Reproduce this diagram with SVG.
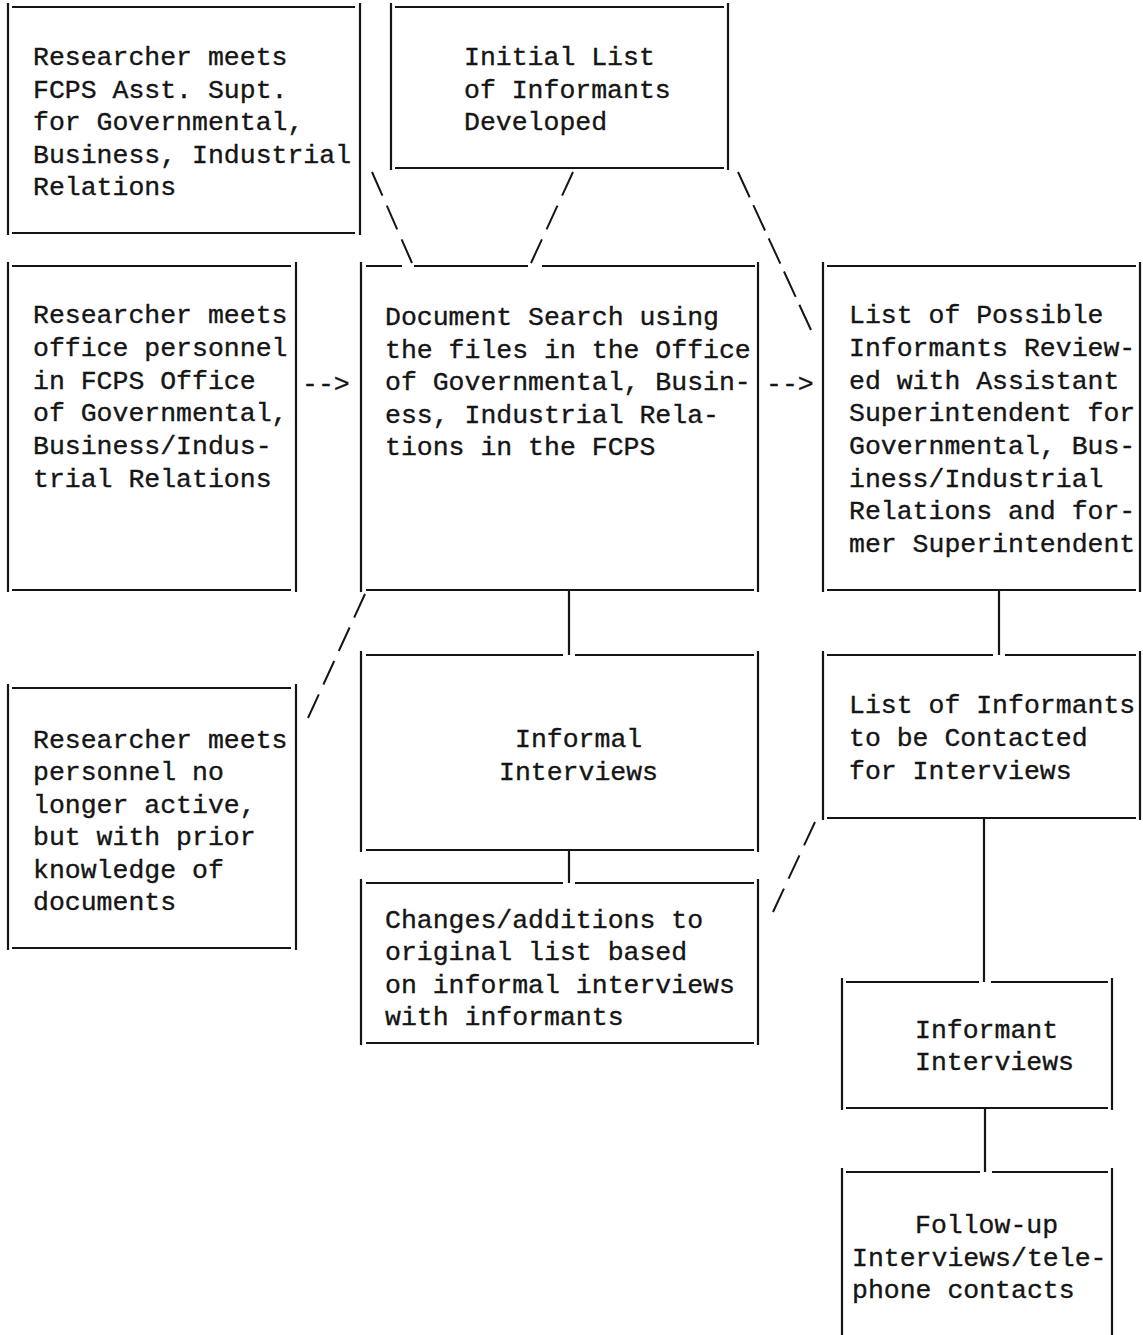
<svg xmlns="http://www.w3.org/2000/svg" width="1143" height="1335" viewBox="0 0 1143 1335">
<style>
.bg{fill:#ffffff}
.b{fill:none;stroke:#151515;stroke-width:2.2;stroke-linecap:butt}
.c{fill:none;stroke:#151515;stroke-width:2.2}
.d{fill:none;stroke:#151515;stroke-width:2}
.d3{stroke-dasharray:26 11}
.d4{stroke-dasharray:19 8}
.d5{stroke-dasharray:16 5}
.t{font-family:"Liberation Mono","DejaVu Sans Mono",monospace;font-size:26.5px;fill:#151515;stroke:#151515;stroke-width:0.35}
</style>
<rect class="bg" x="0" y="0" width="1143" height="1335"/>

<g id="node-asst-supt">
<path class="b" d="M8 3V235M360 3V235M12 7H355M12 233H355"/>
<text class="t"><tspan x="33" y="65">Researcher meets</tspan><tspan x="33" y="97.5">FCPS Asst. Supt.</tspan><tspan x="33" y="130">for Governmental,</tspan><tspan x="33" y="162.5">Business, Industrial</tspan><tspan x="33" y="195">Relations</tspan></text>
</g>

<g id="node-initial-list">
<path class="b" d="M391 3V170M728 3V170M395 7H724M395 168H724"/>
<text class="t"><tspan x="464" y="65">Initial List</tspan><tspan x="464" y="97.5">of Informants</tspan><tspan x="464" y="130">Developed</tspan></text>
</g>

<g id="node-office-personnel">
<path class="b" d="M8 262V592M296 262V592M12 266H291M12 590H291"/>
<text class="t"><tspan x="33" y="323">Researcher meets</tspan><tspan x="33" y="356">office personnel</tspan><tspan x="33" y="388.5">in FCPS Office</tspan><tspan x="33" y="421">of Governmental,</tspan><tspan x="33" y="454">Business/Indus-</tspan><tspan x="33" y="486.5">trial Relations</tspan></text>
</g>

<g id="node-document-search">
<path class="b" d="M361 262V592M758 262V592M366 266H402M414 266H528M542 266H755M366 590H754"/>
<text class="t"><tspan x="385" y="325">Document Search using</tspan><tspan x="385" y="357.5">the files in the Office</tspan><tspan x="385" y="390">of Governmental, Busin-</tspan><tspan x="385" y="422.5">ess, Industrial Rela-</tspan><tspan x="385" y="455">tions in the FCPS</tspan></text>
</g>

<g id="node-possible-informants">
<path class="b" d="M823 262V592M1140 262V592M827 266H1136M827 590H1136"/>
<text class="t"><tspan x="849" y="323">List of Possible</tspan><tspan x="849" y="356">Informants Review-</tspan><tspan x="849" y="388.5">ed with Assistant</tspan><tspan x="849" y="421">Superintendent for</tspan><tspan x="849" y="454">Governmental, Bus-</tspan><tspan x="849" y="486.5">iness/Industrial</tspan><tspan x="849" y="519">Relations and for-</tspan><tspan x="849" y="552">mer Superintendent</tspan></text>
</g>

<g id="node-informal-interviews">
<path class="b" d="M361 651V852M758 651V852M366 655H563M575 655H754M366 850H754"/>
<text class="t"><tspan x="515" y="747">Informal</tspan><tspan x="499" y="780">Interviews</tspan></text>
</g>

<g id="node-contact-list">
<path class="b" d="M823 651V820M1140 651V820M827 655H993M1005 655H1136M827 818H1136"/>
<text class="t"><tspan x="849" y="713">List of Informants</tspan><tspan x="849" y="746">to be Contacted</tspan><tspan x="849" y="779">for Interviews</tspan></text>
</g>

<g id="node-inactive-personnel">
<path class="b" d="M8 684V950M296 684V950M12 688H291M12 948H291"/>
<text class="t"><tspan x="33" y="748">Researcher meets</tspan><tspan x="33" y="780">personnel no</tspan><tspan x="33" y="813">longer active,</tspan><tspan x="33" y="845">but with prior</tspan><tspan x="33" y="878">knowledge of</tspan><tspan x="33" y="910">documents</tspan></text>
</g>

<g id="node-changes">
<path class="b" d="M361 879V1045M758 879V1045M366 883H563M575 883H754M366 1043H754"/>
<text class="t"><tspan x="385" y="928">Changes/additions to</tspan><tspan x="385" y="960">original list based</tspan><tspan x="385" y="993">on informal interviews</tspan><tspan x="385" y="1025">with informants</tspan></text>
</g>

<g id="node-informant-interviews">
<path class="b" d="M842 978V1110M1112 978V1110M846 982H979M991 982H1108M846 1108H1108"/>
<text class="t"><tspan x="915" y="1038">Informant</tspan><tspan x="915" y="1070">Interviews</tspan></text>
</g>

<g id="node-follow-up">
<path class="b" d="M842 1168V1335M1112 1168V1335M846 1172H980M992 1172H1108"/>
<text class="t"><tspan x="915" y="1233">Follow-up</tspan><tspan x="852" y="1266">Interviews/tele-</tspan><tspan x="852" y="1298">phone contacts</tspan></text>
</g>

<g id="connectors">
<path class="c" d="M569 590V655M569 850V883M999 590V655M984 818V982M985 1108V1172"/>
<path class="d d3" pathLength="100" d="M372 172L412 263"/>
<path class="d d3" pathLength="100" d="M573 172L531 263"/>
<path class="d d5" pathLength="100" d="M738 172L811 330"/>
<path class="d d4" pathLength="100" d="M365 594L308 718"/>
<path class="d d3" pathLength="100" d="M815 822L773 912"/>
<text class="t" x="302" y="392">--&gt;</text>
<text class="t" x="766" y="392">--&gt;</text>
</g>
</svg>
